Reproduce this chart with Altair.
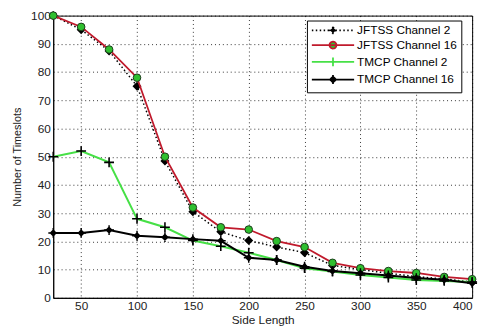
import altair as alt
import pandas as pd

side_length = [25, 50, 75, 100, 125, 150, 175, 200, 225, 250, 275, 300, 325, 350, 375, 400]
jftss_ch2 = [100, 95, 87.5, 75, 48.5, 30.5, 23.4, 20.3, 18, 16, 11.5, 10, 8.7, 7.5, 6.7, 5.6]
jftss_ch16 = [100, 96, 88, 78, 50, 32, 25, 24.2, 20.1, 18, 12.4, 10.5, 9.5, 8.8, 7.4, 6.6]
tmcp_ch2 = [50, 52, 48, 28, 25, 20.3, 18.3, 16, 13.4, 10.5, 9.3, 8.1, 7.2, 6.3, 6, 5.6]
tmcp_ch16 = [23, 23, 24, 22, 21.5, 20.8, 20.2, 14.2, 13.4, 11, 9.5, 8.7, 7.9, 7, 6.4, 5.2]

series_names = ["JFTSS Channel 2", "JFTSS Channel 16", "TMCP Channel 2", "TMCP Channel 16"]
x_ticks = [50, 100, 150, 200, 250, 300, 350, 400]
y_ticks = [0, 10, 20, 30, 40, 50, 60, 70, 80, 90, 100]

rows = []
for name, vals in zip(series_names, [jftss_ch2, jftss_ch16, tmcp_ch2, tmcp_ch16]):
    for xv, yv in zip(side_length, vals):
        rows.append({"series": name, "x": xv, "y": yv})
df = pd.DataFrame(rows)

RED = "#c01a2c"
GREEN_LINE = "#46e046"
GREEN_FILL = "#2fbf2f"
FONT = "Liberation Sans"

xenc = alt.X("x:Q", scale=alt.Scale(domain=[25, 400], nice=False, zero=False),
             axis=alt.Axis(values=x_ticks, title="Side Length"))
yenc = alt.Y("y:Q", scale=alt.Scale(domain=[0, 100], nice=False),
             axis=alt.Axis(values=y_ticks, title="Number of Timeslots"))

base = alt.Chart(df)

def sub(name):
    return base.transform_filter(alt.datum.series == name)

PLUS = "M-1,0L1,0M0,-1L0,1"
PLUS_DIAMOND = "M-1,0L1,0M0,-1L0,1M0,-0.55L0.55,0L0,0.55L-0.55,0Z"

l1 = sub(series_names[0]).mark_line(color="black", strokeWidth=1.5, strokeDash=[1.5, 2.5]).encode(x=xenc, y=yenc)
p1 = sub(series_names[0]).mark_point(shape="diamond", size=40, filled=True, fill="black", stroke="black", opacity=1).encode(x=xenc, y=yenc)
l2 = sub(series_names[1]).mark_line(color=RED, strokeWidth=1.8).encode(x=xenc, y=yenc)
p2 = sub(series_names[1]).mark_point(shape="circle", size=60, filled=True, fill=GREEN_FILL, stroke="#1b3a1b", strokeWidth=1, opacity=1).encode(x=xenc, y=yenc)
l3 = sub(series_names[2]).mark_line(color=GREEN_LINE, strokeWidth=2).encode(x=xenc, y=yenc)
p3 = sub(series_names[2]).mark_point(shape=PLUS, size=100, filled=False, stroke="black", strokeWidth=1.6, opacity=1).encode(x=xenc, y=yenc)
l4 = sub(series_names[3]).mark_line(color="black", strokeWidth=2).encode(x=xenc, y=yenc)
p4 = sub(series_names[3]).mark_point(shape=PLUS_DIAMOND, size=100, filled=True, fill="black", stroke="black", strokeWidth=1.5, opacity=1).encode(x=xenc, y=yenc)

# legend symbols: unit = 5 px (size 100); line 43 px long, marker at its middle
legend_paths = [
    "M-1,0L7.6,0M3.3,-0.6L3.9,0L3.3,0.6L2.7,0Z",
    "M-1,0L7.6,0M2.6,0A0.7,0.7 0 1,0 4,0A0.7,0.7 0 1,0 2.6,0Z",
    "M-1,0L7.6,0M2.4,0L4.2,0M3.3,-0.9L3.3,0.9",
    "M-1,0L7.6,0M3.3,-0.9L3.3,0.9M3.3,-0.6L3.9,0L3.3,0.6L2.7,0Z",
]
legend_strokes = ["black", RED, GREEN_LINE, "black"]
legend_fills = ["black", GREEN_FILL, "black", "black"]
legend_dashes = [[1.5, 2.5], [1, 0], [1, 0], [1, 0]]

leg = alt.Legend(title=None, orient="none", legendX=258, legendY=5,
                 labelExpr="datum.label + '      '")

legend_layer = base.transform_filter("datum.x < 0").mark_point(
    size=100, opacity=1, strokeWidth=1.8, filled=True
).encode(
    x=xenc, y=yenc,
    shape=alt.Shape("series:N", scale=alt.Scale(domain=series_names, range=legend_paths), legend=leg),
    fill=alt.Fill("series:N", scale=alt.Scale(domain=series_names, range=legend_fills), legend=leg),
    stroke=alt.Stroke("series:N", scale=alt.Scale(domain=series_names, range=legend_strokes), legend=leg),
    strokeDash=alt.StrokeDash("series:N", scale=alt.Scale(domain=series_names, range=legend_dashes), legend=leg),
)

chart = alt.layer(l1, p1, l2, p2, l3, p3, l4, p4, legend_layer).properties(
    width=426, height=287,
    autosize=alt.AutoSizeParams(type="none"),
    padding={"left": 46, "top": 5, "right": 8, "bottom": 32},
).configure_view(
    stroke="black", strokeWidth=1
).configure_axis(
    domainColor="black", domainWidth=1,
    grid=True, gridColor="black", gridDash=[1, 3], gridOpacity=0.8, gridWidth=1,
    ticks=False, labelPadding=3,
    labelFont=FONT, labelFontSize=12, labelColor="#222222",
    titleFont=FONT, titleFontWeight="normal", titleColor="#222222",
).configure_axisY(
    titlePadding=8, titleFontSize=11
).configure_axisX(
    titlePadding=3, titleFontSize=12
).configure_legend(
    strokeColor="black", fillColor="white", padding=4, rowPadding=0,
    labelFont=FONT, labelFontSize=12, labelColor="black",
    symbolSize=100, symbolStrokeWidth=1.8, labelOffset=35,
)

chart.save("out.html", embed_options={"renderer": "svg", "actions": False})
